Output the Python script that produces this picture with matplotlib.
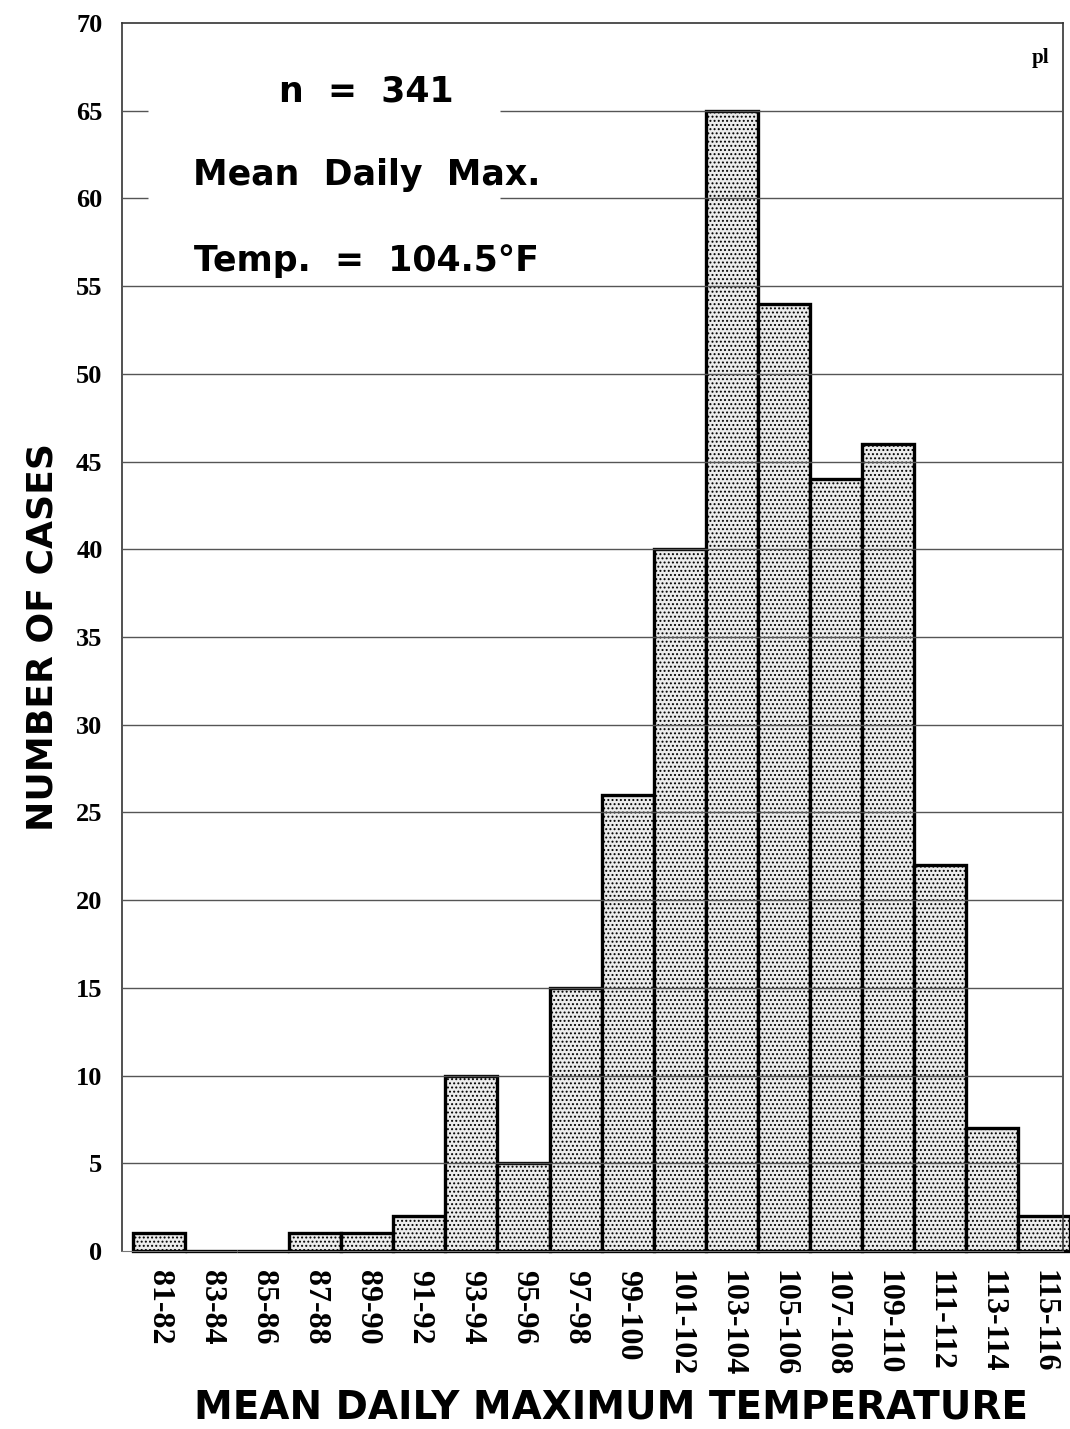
import numpy as np
import matplotlib
matplotlib.use("Agg")
import matplotlib.pyplot as plt

# dados do histograma
faixas = ["81-82", "83-84", "85-86", "87-88", "89-90", "91-92", "93-94", "95-96",
          "97-98", "99-100", "101-102", "103-104", "105-106", "107-108", "109-110",
          "111-112", "113-114", "115-116"]
casos = [1, 0, 0, 1, 1, 2, 10, 5, 15, 26, 40, 65, 54, 44, 46, 22, 7, 2]
ticks_y = [0, 5, 10, 15, 20, 25, 30, 35, 40, 45, 50, 55, 60, 65, 70]

plt.rcParams["hatch.color"] = "#5a5a5a"
plt.rcParams["hatch.linewidth"] = 0.9

fig = plt.figure(figsize=(10.70, 14.29), dpi=100)
ax = fig.add_axes([0.114, 0.1246, 0.8795, 0.8593])

x = np.arange(len(casos))
ax.bar(x, casos, width=1.0, align="edge", facecolor="#ececec", edgecolor="black",
       linewidth=2.4, hatch="....", zorder=2, clip_on=False)

ax.set_xlim(-0.211, 17.86)
ax.set_ylim(0, 70)

# linhas de grade (interrompidas atras do texto)
for v in ticks_y[1:-1]:
    if v in (60, 65):
        ax.hlines(v, -0.211, 0.29, color="#555555", lw=1.0, zorder=3)
        ax.hlines(v, 7.05, 17.86, color="#555555", lw=1.0, zorder=3)
    else:
        ax.hlines(v, -0.211, 17.86, color="#555555", lw=1.0, zorder=3)

for s in ["left", "top", "right"]:
    ax.spines[s].set_linewidth(1.2)
    ax.spines[s].set_color("#333333")
ax.spines["bottom"].set_linewidth(0.8)
ax.spines["bottom"].set_color("#777777")

ax.set_yticks(ticks_y)
ax.set_yticklabels([str(t) for t in ticks_y], family="Liberation Serif",
                   fontweight="bold", fontsize=19)
ax.set_xticks(x + 0.5)
ax.set_xticklabels(faixas, rotation=270, family="Liberation Serif",
                   fontweight="bold", fontsize=23, va="top", ha="center")
ax.tick_params(axis="both", length=0)
ax.tick_params(axis="y", pad=14)
ax.tick_params(axis="x", pad=14)

ax.set_ylabel("NUMBER OF CASES", fontsize=26, fontweight="bold",
              family="DejaVu Sans", labelpad=12)
ax.set_xlabel("MEAN DAILY MAXIMUM TEMPERATURE", fontsize=28, fontweight="bold",
              family="DejaVu Sans", labelpad=2)
ax.xaxis.set_label_coords(0.52, -0.112)

# texto de resumo
ax.text(0.26, 0.944, "n  =  341", transform=ax.transAxes, ha="center", va="center",
        fontsize=25, fontweight="bold")
ax.text(0.26, 0.876, "Mean  Daily  Max.", transform=ax.transAxes, ha="center",
        va="center", fontsize=25, fontweight="bold")
ax.text(0.26, 0.806, "Temp.  =  104.5°F", transform=ax.transAxes, ha="center",
        va="center", fontsize=25, fontweight="bold")
ax.text(0.985, 0.98, "pl", transform=ax.transAxes, ha="right", va="top",
        fontsize=15, fontweight="bold", family="Liberation Serif")

fig.savefig("out.png", dpi=100, facecolor="white")
